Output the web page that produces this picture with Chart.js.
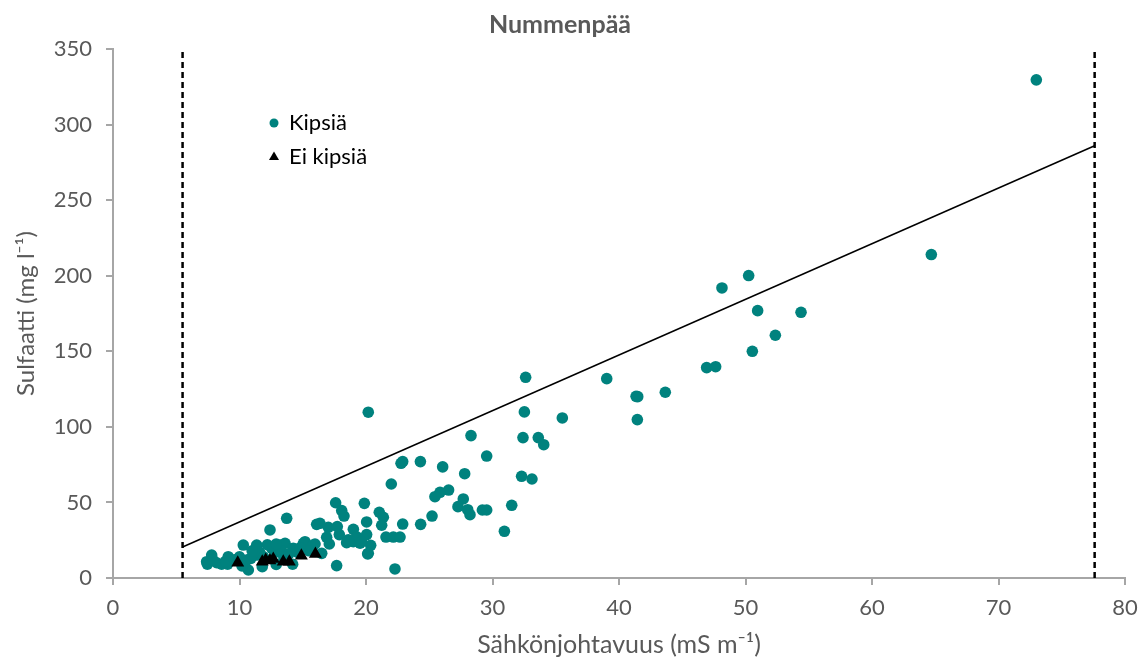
<!DOCTYPE html>
<html>
<head>
<meta charset="utf-8">
<script src="https://cdn.jsdelivr.net/npm/chart.js@4.4.0/dist/chart.umd.min.js"></script>
<style>
  body { margin: 0; background: #fff; }
  #wrap { width: 1141px; height: 664px; }
</style>
</head>
<body>
<div id="wrap"><canvas id="chart" width="1141" height="664"></canvas></div>
<script>
// Sähkönjohtavuus (mS/m), Sulfaatti (mg/l)
const kipsia = [
  [72.99, 329.6], [64.69, 214.0], [50.25, 200.1], [48.14, 191.9], [50.96, 176.9], [54.39, 175.8],
  [52.36, 160.6], [50.54, 150.0], [46.93, 139.2], [47.64, 139.8], [39.03, 131.9], [41.48, 120.0],
  [41.35, 120.2], [43.66, 122.9], [41.45, 104.8],
  [32.62, 132.8], [32.52, 109.9], [35.52, 105.9], [28.30, 94.2], [32.41, 92.9], [33.62, 92.9],
  [34.05, 88.2], [29.54, 80.7], [26.06, 73.5], [27.80, 69.0], [32.30, 67.3], [33.12, 65.5],
  [26.53, 58.2], [25.85, 56.7], [25.45, 53.8], [27.69, 52.3], [27.27, 47.2], [28.04, 45.2],
  [28.22, 41.9], [29.20, 45.0], [29.54, 45.0], [31.52, 48.1], [30.94, 30.9],
  [20.18, 109.7], [22.90, 77.0], [22.77, 75.9], [24.30, 77.0], [22.0, 62.2], [17.60, 49.8],
  [19.87, 49.4], [18.08, 44.6], [18.26, 41.0], [21.05, 43.5], [21.37, 40.2], [21.24, 34.9],
  [20.05, 37.1], [16.10, 35.5], [17.02, 33.5], [19.0, 32.2], [22.90, 35.7], [24.32, 35.5],
  [25.22, 41.0], [17.89, 28.7], [16.89, 26.9], [18.47, 23.4], [19.0, 24.0], [19.53, 23.0],
  [20.05, 28.7], [20.37, 21.6], [21.58, 27.1], [22.16, 27.1], [22.69, 27.1], [17.10, 22.5],
  [15.97, 22.5], [15.18, 24.0], [20.13, 15.9], [17.68, 8.2], [22.29, 6.0], [19.26, 27.3],
  [18.6, 25.2], [20.18, 16.3], [16.5, 16.3], [16.36, 36.2], [17.73, 34.0], [19.65, 24.0],
  [7.80, 15.2], [7.46, 9.1], [8.20, 10.1], [8.59, 9.1], [9.11, 14.1], [9.06, 9.1],
  [10.30, 21.8], [10.70, 5.3], [10.57, 11.9], [11.36, 21.8], [11.36, 15.2], [12.41, 31.8],
  [12.54, 19.7], [13.20, 21.8], [13.60, 23.0], [13.73, 39.5], [14.25, 19.7], [14.20, 9.1],
  [15.05, 23.0], [15.84, 21.8], [7.40, 10.8], [7.9, 12.0], [8.9, 11.0], [9.6, 12.0],
  [10.0, 14.0], [10.9, 13.0], [11.6, 17.0], [11.9, 14.0], [12.8, 17.0], [13.3, 18.0],
  [13.9, 16.0], [14.6, 17.0], [12.2, 22.0], [11.0, 18.0], [10.4, 10.0], [12.9, 22.5],
  [14.8, 20.0], [15.5, 18.0], [13.5, 14.0], [10.2, 8.0], [11.8, 7.5], [12.9, 9.0]
];
const eiKipsia = [
  [9.86, 10.1], [11.80, 10.8], [12.07, 11.9], [12.4, 11.5], [12.67, 12.6],
  [13.46, 10.8], [13.94, 10.8], [14.89, 14.8], [16.0, 15.9]
];
const trendLine = [[5.5, 20.5], [77.6, 286]];
const rajaVasen = [[5.5, 0], [5.5, 350]];
const rajaOikea = [[77.6, 0], [77.6, 350]];

const teal = '#00827E';
const grey = '#595959';
const axisGrey = '#A6A6A6';
const font = 'Lato, "Open Sans", sans-serif';

function pts(arr) {
  return arr.map(p => ({ x: p[0], y: p[1] }));
}

const overlay = {
  id: 'overlay',
  afterDraw(chart) {
    const c = chart.ctx;
    c.save();
    // title
    c.fillStyle = grey;
    c.font = 'bold 25px ' + font;
    c.textAlign = 'center';
    c.textBaseline = 'middle';
    c.fillText('Nummenpää', 560, 25);
    // legend
    c.font = '22px ' + font;
    c.textAlign = 'left';
    c.fillStyle = '#000';
    c.fillText('Kipsiä', 289, 123);
    c.fillText('Ei kipsiä', 289, 157);
    c.fillStyle = teal;
    c.beginPath();
    c.arc(274, 123, 4.5, 0, Math.PI * 2);
    c.fill();
    c.fillStyle = '#000';
    c.beginPath();
    c.moveTo(274, 151.5);
    c.lineTo(279, 160);
    c.lineTo(269, 160);
    c.closePath();
    c.fill();
    c.restore();
  }
};

new Chart(document.getElementById('chart').getContext('2d'), {
  type: 'scatter',
  data: {
    datasets: [
      {
        label: 'Kipsiä',
        data: pts(kipsia),
        backgroundColor: teal,
        borderColor: teal,
        pointRadius: 5.8,
        pointStyle: 'circle',
        borderWidth: 0,
        order: 2
      },
      {
        label: 'Ei kipsiä',
        data: pts(eiKipsia),
        backgroundColor: '#000',
        borderColor: '#000',
        pointRadius: 7.5,
        pointStyle: 'triangle',
        borderWidth: 0,
        order: 1
      },
      {
        label: 'trend',
        data: pts(trendLine),
        showLine: true,
        borderColor: '#000',
        borderWidth: 1.5,
        pointRadius: 0,
        order: 0
      },
      {
        label: 'raja1',
        data: pts(rajaVasen),
        showLine: true,
        borderColor: '#000',
        borderWidth: 2.5,
        borderDash: [6, 4],
        pointRadius: 0,
        order: 0
      },
      {
        label: 'raja2',
        data: pts(rajaOikea),
        showLine: true,
        borderColor: '#000',
        borderWidth: 2.5,
        borderDash: [6, 4],
        pointRadius: 0,
        order: 0
      }
    ]
  },
  options: {
    responsive: false,
    animation: false,
    layout: { padding: { left: 12, right: 16, top: 49, bottom: 0 } },
    plugins: {
      legend: { display: false },
      title: { display: false },
      tooltip: { enabled: false }
    },
    scales: {
      x: {
        type: 'linear',
        min: 0,
        max: 80,
        ticks: { stepSize: 10, color: grey, font: { size: 22, family: font }, padding: 10, maxRotation: 0 },
        grid: { drawOnChartArea: false, drawTicks: true, tickLength: 7, color: axisGrey, lineWidth: 2 },
        border: { color: axisGrey, width: 2 },
        title: { display: true, text: 'Sähkönjohtavuus (mS m⁻¹)', color: grey, font: { size: 25, family: font }, padding: { top: 6 } },
        afterFit(scale) {
          scale.height = 86;
          scale.paddingRight = 0;
          scale.paddingLeft = 0;
        }
      },
      y: {
        type: 'linear',
        min: 0,
        max: 350,
        ticks: { stepSize: 50, color: grey, font: { size: 22, family: font }, padding: 14 },
        grid: { drawOnChartArea: false, drawTicks: true, tickLength: 7, color: axisGrey, lineWidth: 2 },
        border: { color: axisGrey, width: 2 },
        title: { display: true, text: 'Sulfaatti (mg l⁻¹)', color: grey, font: { size: 24, family: font }, padding: 0 },
        afterFit(scale) { scale.width = 101; }
      }
    }
  },
  plugins: [overlay]
});
</script>
</body>
</html>
